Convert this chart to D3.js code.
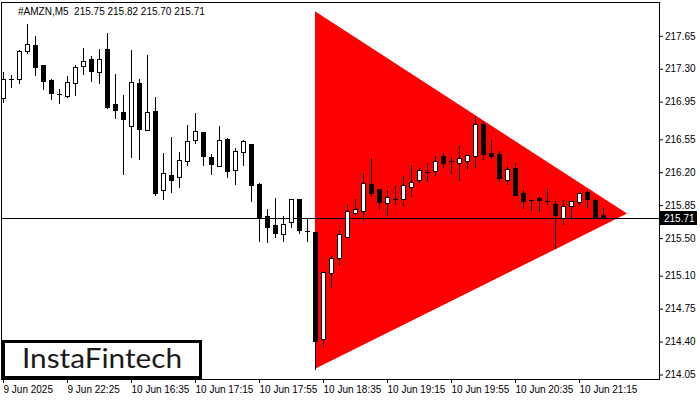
<!DOCTYPE html>
<html><head><meta charset="utf-8">
<script src="https://cdn.jsdelivr.net/npm/d3@7"></script>
<style>body{margin:0;background:#fff}svg{display:block}</style>
</head><body>
<svg id="c" width="700" height="400"></svg>
<script>
const symbolLabel = "#AMZN,M5  215.75 215.82 215.70 215.71";
const opens = [216.99,217.19,217.19,217.49,217.55,217.34,217.18,217.03,217.01,217.15,
217.33,217.40,217.26,217.51,216.92,216.84,216.69,217.15,216.65,216.85,
216.01,216.17,216.15,216.32,216.54,216.63,216.36,216.27,216.55,216.22,
216.41,216.50,216.07,215.73,215.64,215.54,215.67,215.92,215.58,215.56,
214.43,215.13,215.29,215.51,215.77,215.79,216.07,216.02,215.87,215.92,
215.92,216.04,216.12,216.20,216.21,216.37,216.32,216.30,216.32,216.37,
216.71,216.40,216.39,216.12,216.24,215.98,215.90,215.93,215.89,215.86,
215.71,215.84,215.88,215.99,215.90,215.75];
const highs = [217.27,217.23,217.50,217.78,217.65,217.34,217.19,217.08,217.22,217.34,
217.52,217.43,217.51,217.68,217.24,217.02,217.50,217.19,217.45,217.00,
216.40,216.57,216.41,216.70,216.83,216.63,216.39,216.69,216.56,216.46,
216.54,216.50,216.09,215.81,215.93,215.73,215.92,215.92,215.71,215.56,
215.14,215.31,215.59,215.86,215.92,216.19,216.35,216.02,216.01,216.05,
216.16,216.28,216.24,216.30,216.37,216.40,216.36,216.48,216.38,216.80,
216.73,216.54,216.43,216.27,216.30,216.01,215.90,215.94,216.03,215.89,
215.90,215.89,215.98,216.01,215.93,215.82];
const lows = [216.95,217.11,217.15,217.47,217.23,217.08,216.98,216.94,217.00,217.02,
217.24,217.17,217.15,216.88,216.78,216.18,216.36,216.34,216.65,215.96,
215.92,215.99,216.04,216.28,216.51,216.28,216.18,216.27,216.15,216.07,
216.28,215.89,215.47,215.46,215.51,215.47,215.62,215.55,215.47,214.11,
214.34,214.98,215.21,215.51,215.75,215.69,215.95,215.81,215.75,215.86,
215.85,215.95,216.10,216.11,216.17,216.26,216.19,216.12,216.23,216.26,
216.34,216.35,216.11,216.07,215.96,215.82,215.80,215.79,215.86,215.39,
215.65,215.71,215.85,215.83,215.71,215.70];
const closes = [217.19,217.19,217.49,217.56,217.32,217.17,217.04,217.03,217.16,217.32,
217.38,217.28,217.40,216.89,216.86,216.77,217.16,216.66,216.84,215.98,
216.19,216.12,216.33,216.53,216.64,216.37,216.29,216.54,216.21,216.43,
216.53,216.06,215.71,215.62,215.55,215.65,215.92,215.59,215.58,214.41,
215.14,215.29,215.54,215.79,215.81,216.09,215.98,215.88,215.94,215.92,
216.06,216.10,216.22,216.20,216.32,216.30,216.32,216.35,216.38,216.71,
216.39,216.37,216.14,216.23,215.96,215.89,215.90,215.90,215.89,215.75,
215.84,215.89,215.98,215.92,215.71,215.71];
const yTicks = [217.65,217.30,216.95,216.55,216.20,215.85,215.50,215.10,214.75,214.40,214.05];
const xTickIdx = [0,8,16,24,32,40,48,56,64,72];
const xTickLabels = ["9 Jun 2025","9 Jun 22:25","10 Jun 16:35","10 Jun 17:15","10 Jun 17:55","10 Jun 18:35","10 Jun 19:15","10 Jun 19:55","10 Jun 20:35","10 Jun 21:15"];
const triIdx = [39, 39, 78];
const triPrice = [217.91, 214.11, 215.76];
const lastPrice = 215.71;

const FONT = "'Liberation Sans', Arial, sans-serif";
const svg = d3.select('#c');
const n = opens.length;
const x = d3.scaleLinear().domain([0, 75]).range([3, 603]);
const y = d3.scaleLinear().domain([214.05, 217.65]).range([374.5, 35.8]);

svg.append('defs').append('clipPath').attr('id','plot')
  .append('rect').attr('x',2).attr('y',3).attr('width',657).attr('height',376);

const g = svg.append('g').attr('clip-path','url(#plot)');

// triangle
g.append('path')
  .attr('d', d3.line()(triIdx.map((d,i)=>[x(d), y(triPrice[i])])) + 'Z')
  .attr('fill', '#ff0000');

// price line
g.append('line').attr('x1',2).attr('x2',659)
  .attr('y1', Math.round(y(lastPrice))+0.5).attr('y2', Math.round(y(lastPrice))+0.5)
  .attr('stroke','#000').attr('stroke-width',1);

// candles
const data = d3.range(n).map(i=>({i,o:opens[i],h:highs[i],l:lows[i],c:closes[i]}));
const cg = g.append('g');
cg.selectAll('line.w').data(data).join('line').attr('class','w')
  .attr('x1',d=>x(d.i)+0.5).attr('x2',d=>x(d.i)+0.5)
  .attr('y1',d=>Math.round(y(d.h))).attr('y2',d=>Math.round(y(d.l))+1)
  .attr('stroke','#000').attr('stroke-width',1);
cg.selectAll('rect.b').data(data.filter(d=>d.o!==d.c)).join('rect').attr('class','b')
  .attr('x',d=>x(d.i)-1.5).attr('width',4)
  .attr('y',d=>Math.round(y(Math.max(d.o,d.c)))+0.5)
  .attr('height',d=>Math.max(1, Math.round(y(Math.min(d.o,d.c)))-Math.round(y(Math.max(d.o,d.c)))))
  .attr('fill',d=>d.c>d.o?'#fff':'#000')
  .attr('stroke','#000').attr('stroke-width',1);
cg.selectAll('line.d').data(data.filter(d=>d.o===d.c)).join('line').attr('class','d')
  .attr('x1',d=>x(d.i)-2).attr('x2',d=>x(d.i)+3)
  .attr('y1',d=>Math.round(y(d.c))+0.5).attr('y2',d=>Math.round(y(d.c))+0.5)
  .attr('stroke','#000').attr('stroke-width',1);

// frame
svg.append('rect').attr('x',1.5).attr('y',2.5).attr('width',658).attr('height',377)
  .attr('fill','none').attr('stroke','#000').attr('stroke-width',1);

// y axis
const ya = svg.append('g').attr('transform','translate(659,0)')
  .call(d3.axisRight(y).tickValues(yTicks).tickSize(4).tickFormat(d3.format('.2f')));
ya.select('.domain').remove();
ya.selectAll('text').attr('font-family',FONT).attr('font-size',10).attr('fill','#000').attr('x',6);

// x axis
const xa = svg.append('g').attr('transform','translate(0,379)')
  .call(d3.axisBottom(x).tickValues(xTickIdx).tickSize(4).tickFormat((d,i)=>xTickLabels[i]));
xa.select('.domain').remove();
xa.selectAll('text').attr('font-family',FONT).attr('font-size',10).attr('fill','#000')
  .attr('text-anchor','start').attr('x',0);

// last price box
const ly = Math.round(y(lastPrice));
svg.append('rect').attr('x',660).attr('y',ly-7).attr('width',37).attr('height',14).attr('fill','#000');
svg.append('text').attr('x',664).attr('y',ly+4).attr('font-family',FONT).attr('font-size',10)
  .attr('fill','#fff').text(d3.format('.2f')(lastPrice));

// header
svg.append('text').attr('x',18).attr('y',14.5).attr('font-family',FONT).attr('font-size',10)
  .attr('fill','#000').style('white-space','pre').text(symbolLabel);

// logo
svg.append('rect').attr('x',3.5).attr('y',341.5).attr('width',197).attr('height',36)
  .attr('fill','#fff').attr('stroke','#000').attr('stroke-width',3);
svg.append('text').attr('x',22).attr('y',368).attr('font-family',"Lato, 'Open Sans', sans-serif")
  .attr('font-size',26).attr('fill','#1a1a1a').attr('textLength',160).attr('lengthAdjust','spacingAndGlyphs')
  .text('InstaFintech');
</script>
</body></html>
